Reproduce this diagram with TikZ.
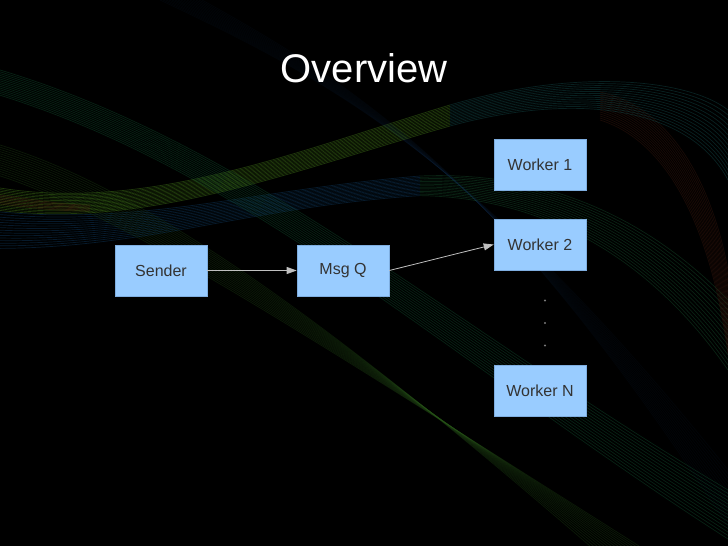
\documentclass[tikz,border=0pt]{standalone}
\usepackage{fontspec}
\setmainfont{Liberation Sans}
\usetikzlibrary{arrows.meta}
\definecolor{boxfill}{HTML}{99CCFF}
\definecolor{boxedge}{HTML}{7FAEE0}
\definecolor{textgray}{HTML}{333333}
\definecolor{arrowgray}{HTML}{C0C0C0}
\definecolor{dotgray}{HTML}{7A7A7A}
\definecolor{bandteal}{RGB}{25,95,95}
\definecolor{bandgreen}{RGB}{30,85,30}
\definecolor{bandlime}{RGB}{70,125,25}
\definecolor{bandolive}{RGB}{40,85,25}
\definecolor{bandblue}{RGB}{20,50,85}
\definecolor{bandred}{RGB}{85,35,20}
\tikzset{
  box/.style={rectangle, fill=boxfill, draw=boxedge, line width=0.6pt,
    minimum width=92pt, minimum height=51pt, inner sep=0pt,
    font=\fontsize{16}{19}\selectfont, text=textgray},
  arr/.style={draw=arrowgray, line width=0.8pt, -{Triangle[length=10pt,width=7pt]}},
  band/.style={line width=0.7pt, opacity=0.35}
}
\begin{document}
\begin{tikzpicture}[x=1pt,y=-1pt]
\fill[black] (0,0) rectangle (728,546);
\useasboundingbox (0,0) rectangle (728,546);
% background swooshes
\foreach \i in {0,...,14} {
  % faint blue from top
  \draw[band, bandblue, opacity=0.1] (160+\i*3,0) .. controls (330+\i*3,80+\i) and (480+\i*2,160+\i*2) .. (728,470+\i*4);
  % green-teal descending from top left
  \draw[band, bandgreen!70!teal] (0,70+\i*1.8) .. controls (250,145+\i*2) and (450,325+\i*2.5) .. (728,490+\i*3.5);
  % green descending from left
  \draw[band, bandolive, opacity=0.3] (0,145+\i*2.2) .. controls (130,185+\i*2.4) and (300,295+\i*2.6) .. (590+\i*3.5,546);
  % rising bright band
  \draw[band, bandlime, opacity=0.45] (0,188+\i*1.6) .. controls (150,212+\i*1.2) and (300,150+\i*1.3) .. (450,105+\i*1.5);
  \draw[band, bandteal] (450,105+\i*1.5) .. controls (580,67+\i*1.7) and (690,80+\i*2) .. (728,110+\i*5);
  % lower horizontal teal band
  \draw[band, bandteal!80!blue] (0,212+\i*2.6) .. controls (150,225+\i*1.6) and (250,190+\i*1.2) .. (420,176+\i*1.4);
  \draw[band, bandolive!70!teal] (420,176+\i*1.4) .. controls (560,170+\i*2) and (660,230+\i*3) .. (728,300+\i*5);
  % red at right
  \draw[band, bandred, opacity=0.3] (600,92+\i*2) .. controls (680,110+\i*2.5) and (715,200+\i*4) .. (728,270+\i*6);
}
\foreach \i in {0,...,6}
  \draw[band, bandred, opacity=0.35] (0,195+\i*1.5) .. controls (40,200+\i*1.5) and (60,205+\i) .. (90,205+\i);
% title
\node[text=white, font=\fontsize{40}{48}\selectfont] (title) at (364,68) {Overview};
% boxes
\node[box] (sender) at (161,270.5) {Sender};
\node[box] (msgq) at (343,270.5) {Msg Q};
\node[box] (w1) at (540,165) {Worker 1};
\node[box] (w2) at (540,244.5) {Worker 2};
\node[box] (wn) at (540,390.5) {Worker N};
% dots
\foreach \y in {300.5,323,345.5} \fill[dotgray] (545,\y) circle (1.1pt);
% arrows
\draw[arr] (sender) -- (msgq);
\draw[arr] (msgq.east) -- (w2.west);
\end{tikzpicture}
\end{document}
